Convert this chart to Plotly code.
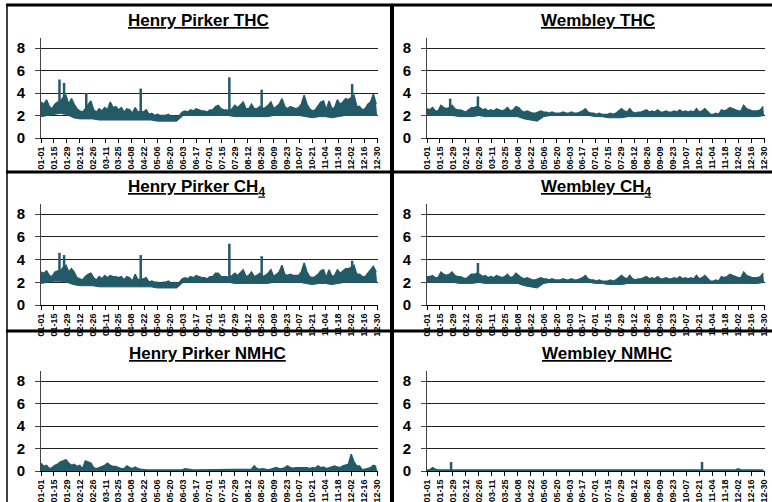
"""
Hourly hydrocarbon concentrations (ppm) at Henry Pirker and Wembley,
one panel per station and species, drawn as a daily range band.
"""

import pandas as pd
import plotly.graph_objects as go

START = pd.Timestamp("2008-01-01")
HI_DAYS = list(range(0, 365, 3))   # upper envelope sampled every 3 days
LO_DAYS = list(range(0, 365, 7))   # lower envelope sampled weekly

# --- Henry Pirker THC ---
hp_thc_hi = [
    3.2, 3.0, 3.4, 2.8, 2.6, 3.0, 3.2, 3.3, 3.6, 3.8,
    3.0, 3.5, 3.0, 2.6, 2.4, 2.3, 2.6, 3.0, 3.3, 2.5,
    2.3, 2.6, 2.4, 2.7, 2.5, 3.2, 2.7, 2.8, 2.5, 2.7,
    2.3, 2.6, 2.5, 2.2, 2.7, 2.3, 2.4, 2.3, 2.5, 2.1,
    2.2, 2.0, 2.1, 2.0, 2.0, 2.0, 2.1, 1.9, 2.0, 1.9,
    2.0, 2.3, 2.4, 2.3, 2.5, 2.4, 2.6, 2.5, 2.4, 2.4,
    2.3, 2.5, 2.5, 2.8, 2.9, 2.6, 2.5, 2.5, 2.4, 2.6,
    2.9, 2.7, 3.0, 3.2, 2.6, 2.6, 3.0, 2.6, 2.6, 2.8,
    2.6, 2.7, 2.9, 3.2, 2.6, 2.8, 3.0, 3.5, 2.8, 2.6,
    2.8, 2.7, 2.6, 2.7, 3.0, 3.8, 3.0, 2.6, 2.4, 2.5,
    2.8, 3.2, 3.3, 2.5, 3.3, 2.6, 2.7, 3.4, 3.0, 3.2,
    3.5, 3.4, 3.6, 3.8, 2.8, 2.8, 2.5, 2.6, 3.0, 3.2,
    3.9, 3.0,
]
hp_thc_lo = [
    1.9, 2.0, 2.1, 2.2, 2.1, 1.8, 1.7, 1.7, 1.7, 1.6,
    1.6, 1.6, 1.6, 1.6, 1.6, 1.6, 1.6, 1.6, 1.5, 1.5,
    1.5, 1.5, 2.0, 2.0, 2.0, 2.0, 2.0, 2.0, 2.0, 2.0,
    1.9, 1.9, 1.9, 1.9, 1.9, 1.9, 2.0, 2.0, 2.0, 2.0,
    2.0, 1.9, 1.8, 1.9, 1.9, 1.8, 1.9, 2.0, 2.0, 2.0,
    2.0, 2.0, 2.0,
]
hp_thc_spike_day = [20, 25, 49, 108, 204, 239, 337]
hp_thc_spike_val = [5.2, 4.9, 4.0, 4.4, 5.4, 4.3, 4.8]

# --- Henry Pirker CH4 ---
hp_ch4_hi = [
    2.9, 2.8, 3.0, 2.6, 2.5, 2.9, 3.0, 3.0, 3.3, 3.5,
    2.9, 3.2, 2.9, 2.4, 2.3, 2.2, 2.5, 2.7, 2.8, 2.4,
    2.2, 2.5, 2.3, 2.6, 2.4, 2.6, 2.5, 2.5, 2.4, 2.5,
    2.2, 2.5, 2.4, 2.1, 2.7, 2.2, 2.3, 2.3, 2.4, 2.0,
    2.1, 2.0, 2.0, 1.9, 2.0, 2.0, 2.1, 1.9, 2.0, 1.9,
    2.0, 2.3, 2.4, 2.3, 2.5, 2.4, 2.6, 2.5, 2.4, 2.4,
    2.3, 2.5, 2.5, 2.8, 2.8, 2.5, 2.5, 2.5, 2.4, 2.6,
    2.8, 2.6, 2.9, 3.1, 2.5, 2.6, 2.9, 2.5, 2.6, 2.8,
    2.5, 2.6, 2.8, 3.1, 2.5, 2.7, 2.9, 3.5, 2.7, 2.6,
    2.7, 2.6, 2.6, 2.6, 2.9, 3.7, 2.9, 2.5, 2.4, 2.5,
    2.7, 3.0, 3.1, 2.4, 3.1, 2.5, 2.6, 3.1, 2.8, 3.0,
    3.2, 3.2, 3.3, 3.5, 2.7, 2.7, 2.5, 2.5, 2.8, 3.0,
    3.4, 2.9,
]
hp_ch4_lo = [
    1.9, 2.0, 2.1, 2.1, 2.0, 1.8, 1.7, 1.7, 1.7, 1.6,
    1.6, 1.6, 1.6, 1.6, 1.6, 1.6, 1.6, 1.6, 1.5, 1.5,
    1.5, 1.5, 2.0, 2.0, 2.0, 2.0, 2.0, 2.0, 2.0, 2.0,
    1.9, 1.9, 1.9, 1.9, 1.9, 1.9, 2.0, 2.0, 2.0, 2.0,
    2.0, 1.9, 1.8, 1.9, 1.9, 1.8, 1.9, 2.0, 2.0, 2.0,
    2.0, 2.0, 2.0,
]
hp_ch4_spike_day = [20, 25, 108, 204, 239, 337]
hp_ch4_spike_val = [4.6, 4.4, 4.4, 5.4, 4.3, 3.9]

# --- Henry Pirker NMHC ---
hp_nmhc_hi = [
    0.7, 0.4, 0.5, 0.2, 0.3, 0.5, 0.6, 0.8, 0.9, 1.0,
    0.7, 0.5, 0.6, 0.4, 0.5, 0.2, 0.9, 0.8, 0.7, 0.3,
    0.2, 0.3, 0.4, 0.5, 0.7, 0.5, 0.4, 0.4, 0.3, 0.2,
    0.2, 0.45, 0.3, 0.2, 0.35, 0.2, 0.15, 0.1, 0.1, 0.1,
    0.1, 0.1, 0.1, 0.1, 0.15, 0.1, 0.1, 0.1, 0.1, 0.1,
    0.1, 0.1, 0.2, 0.15, 0.1, 0.1, 0.1, 0.1, 0.1, 0.1,
    0.1, 0.1, 0.1, 0.1, 0.1, 0.1, 0.1, 0.1, 0.1, 0.1,
    0.1, 0.1, 0.1, 0.1, 0.1, 0.1, 0.15, 0.45, 0.2, 0.15,
    0.2, 0.15, 0.1, 0.15, 0.2, 0.3, 0.2, 0.2, 0.3, 0.45,
    0.3, 0.25, 0.3, 0.3, 0.3, 0.35, 0.3, 0.2, 0.3, 0.25,
    0.45, 0.3, 0.35, 0.2, 0.3, 0.4, 0.45, 0.35, 0.3, 0.45,
    0.5, 0.6, 1.5, 0.8, 0.45, 0.45, 0.1, 0.15, 0.25, 0.3,
    0.5, 0.4,
]
hp_nmhc_lo = [
    0.05, 0.05, 0.05, 0.05, 0.05, 0.05, 0.05, 0.05, 0.05, 0.05,
    0.05, 0.05, 0.05, 0.05, 0.05, 0.05, 0.05, 0.05, 0.05, 0.05,
    0.05, 0.05, 0.05, 0.05, 0.05, 0.05, 0.05, 0.05, 0.05, 0.05,
    0.05, 0.05, 0.05, 0.05, 0.05, 0.05, 0.05, 0.05, 0.05, 0.05,
    0.05, 0.05, 0.05, 0.05, 0.05, 0.05, 0.05, 0.05, 0.05, 0.05,
    0.05, 0.05, 0.05,
]
hp_nmhc_spike_day = []
hp_nmhc_spike_val = []

# --- Wembley THC ---
wem_thc_hi = [
    2.6, 2.5, 2.7, 2.4, 2.4, 2.9, 2.7, 2.6, 2.7, 2.9,
    2.6, 2.5, 2.5, 2.4, 2.3, 2.5, 2.7, 2.7, 2.8, 2.7,
    2.5, 2.6, 2.4, 2.5, 2.4, 2.6, 2.5, 2.4, 2.5, 2.7,
    2.4, 2.5, 2.8, 2.7, 2.4, 2.3, 2.4, 2.3, 2.2, 2.2,
    2.3, 2.4, 2.3, 2.3, 2.2, 2.3, 2.2, 2.2, 2.2, 2.3,
    2.2, 2.2, 2.3, 2.2, 2.2, 2.3, 2.4, 2.6, 2.3, 2.2,
    2.2, 2.1, 2.2, 2.1, 2.1, 2.1, 2.2, 2.1, 2.2, 2.4,
    2.6, 2.4, 2.3, 2.6, 2.3, 2.2, 2.3, 2.3, 2.4, 2.5,
    2.3, 2.4, 2.3, 2.5, 2.3, 2.3, 2.4, 2.3, 2.3, 2.4,
    2.3, 2.5, 2.3, 2.4, 2.3, 2.4, 2.3, 2.6, 2.3, 2.4,
    2.6, 2.3, 2.1, 2.1, 2.2, 2.1, 2.5, 2.4, 2.5, 2.7,
    2.6, 2.5, 2.4, 2.4, 2.9, 2.6, 2.5, 2.4, 2.4, 2.4,
    2.5, 2.8,
]
wem_thc_lo = [
    2.0, 2.0, 2.0, 2.0, 2.0, 1.9, 1.9, 1.9, 2.0, 1.9,
    1.9, 1.9, 1.9, 1.9, 1.9, 1.7, 1.6, 1.5, 1.9, 2.0,
    2.0, 2.0, 2.0, 2.0, 2.0, 2.0, 1.9, 1.9, 1.8, 1.8,
    1.8, 1.9, 1.9, 1.9, 1.9, 1.9, 1.9, 1.9, 1.9, 1.9,
    1.9, 1.9, 1.9, 1.9, 1.9, 1.9, 1.9, 1.9, 1.9, 1.9,
    1.9, 1.9, 2.0,
]
wem_thc_spike_day = [25, 55]
wem_thc_spike_val = [3.5, 3.7]

# --- Wembley CH4 ---
wem_ch4_hi = [
    2.5, 2.5, 2.6, 2.4, 2.4, 2.9, 2.7, 2.6, 2.7, 2.9,
    2.6, 2.5, 2.5, 2.4, 2.3, 2.5, 2.7, 2.7, 2.8, 2.7,
    2.5, 2.6, 2.4, 2.5, 2.4, 2.6, 2.5, 2.4, 2.5, 2.7,
    2.4, 2.5, 2.8, 2.6, 2.4, 2.3, 2.4, 2.3, 2.2, 2.2,
    2.3, 2.4, 2.3, 2.3, 2.2, 2.3, 2.2, 2.2, 2.2, 2.3,
    2.2, 2.2, 2.3, 2.2, 2.2, 2.3, 2.4, 2.6, 2.3, 2.2,
    2.2, 2.1, 2.2, 2.1, 2.1, 2.1, 2.2, 2.1, 2.2, 2.4,
    2.6, 2.4, 2.3, 2.6, 2.3, 2.2, 2.3, 2.3, 2.4, 2.5,
    2.3, 2.4, 2.3, 2.5, 2.3, 2.3, 2.4, 2.3, 2.3, 2.4,
    2.3, 2.5, 2.3, 2.4, 2.3, 2.4, 2.3, 2.6, 2.3, 2.4,
    2.6, 2.3, 2.1, 2.1, 2.2, 2.1, 2.5, 2.4, 2.5, 2.7,
    2.6, 2.5, 2.4, 2.4, 2.9, 2.6, 2.5, 2.4, 2.4, 2.4,
    2.5, 2.8,
]
wem_ch4_lo = [
    2.0, 2.0, 2.0, 2.0, 2.0, 1.9, 1.9, 1.9, 2.0, 1.9,
    1.9, 1.9, 1.9, 1.9, 1.9, 1.7, 1.6, 1.5, 1.9, 2.0,
    2.0, 2.0, 2.0, 2.0, 2.0, 2.0, 1.9, 1.9, 1.8, 1.8,
    1.8, 1.9, 1.9, 1.9, 1.9, 1.9, 1.9, 1.9, 1.9, 1.9,
    1.9, 1.9, 1.9, 1.9, 1.9, 1.9, 1.9, 1.9, 1.9, 1.9,
    1.9, 1.9, 2.0,
]
wem_ch4_spike_day = [55]
wem_ch4_spike_val = [3.7]

# --- Wembley NMHC ---
wem_nmhc_hi = [
    0.1, 0.1, 0.3, 0.15, 0.1, 0.1, 0.1, 0.1, 0.1, 0.1,
    0.1, 0.1, 0.1, 0.1, 0.1, 0.1, 0.1, 0.1, 0.1, 0.1,
    0.1, 0.1, 0.1, 0.1, 0.1, 0.1, 0.1, 0.1, 0.1, 0.1,
    0.1, 0.1, 0.1, 0.1, 0.1, 0.1, 0.1, 0.1, 0.1, 0.1,
    0.1, 0.1, 0.1, 0.1, 0.1, 0.1, 0.1, 0.1, 0.1, 0.1,
    0.1, 0.1, 0.1, 0.1, 0.1, 0.1, 0.1, 0.1, 0.1, 0.1,
    0.1, 0.1, 0.1, 0.1, 0.1, 0.1, 0.1, 0.1, 0.1, 0.1,
    0.1, 0.1, 0.1, 0.1, 0.1, 0.1, 0.1, 0.1, 0.1, 0.1,
    0.1, 0.1, 0.1, 0.1, 0.1, 0.1, 0.1, 0.1, 0.1, 0.1,
    0.1, 0.1, 0.1, 0.1, 0.1, 0.1, 0.1, 0.1, 0.1, 0.1,
    0.1, 0.1, 0.1, 0.05, 0.1, 0.1, 0.1, 0.1, 0.1, 0.1,
    0.1, 0.1, 0.2, 0.1, 0.1, 0.1, 0.1, 0.1, 0.1, 0.1,
    0.1, 0.1,
]
wem_nmhc_lo = [
    0.02, 0.02, 0.02, 0.02, 0.02, 0.02, 0.02, 0.02, 0.02, 0.02,
    0.02, 0.02, 0.02, 0.02, 0.02, 0.02, 0.02, 0.02, 0.02, 0.02,
    0.02, 0.02, 0.02, 0.02, 0.02, 0.02, 0.02, 0.02, 0.02, 0.02,
    0.02, 0.02, 0.02, 0.02, 0.02, 0.02, 0.02, 0.02, 0.02, 0.02,
    0.02, 0.02, 0.02, 0.02, 0.02, 0.02, 0.02, 0.02, 0.02, 0.02,
    0.02, 0.02, 0.02,
]
wem_nmhc_spike_day = [26, 297]
wem_nmhc_spike_val = [0.8, 0.8]

TITLES = [
    "Henry Pirker THC", "Wembley THC",
    "Henry Pirker CH<sub>4</sub>", "Wembley CH<sub>4</sub>",
    "Henry Pirker NMHC", "Wembley NMHC",
]

TEAL = "#235A68"
FONT = "Liberation Sans, Arial, sans-serif"
W, H = 772, 502

# panel geometry in pixels: plot area x-span per column, y-span per row
COL_PX = [(41, 378), (427, 765)]
ROW_PX = [(38, 138), (204, 305), (371, 471)]
TITLE_PX = [(126, 21), (539, 21), (126, 188), (539, 188), (127, 353), (540, 353)]


def px_x(px):
    return px / W


def px_y(py):
    return 1 - py / H


def to_dates(days):
    return [START + pd.Timedelta(days=int(d)) for d in days]


def spike_segments(days, vals, lo):
    """Vertical strokes from the band floor up to each spike peak."""
    xs, ys = [], []
    for d, v in zip(days, vals):
        base = lo[min(range(len(LO_DAYS)), key=lambda i: abs(LO_DAYS[i] - d))]
        xs += [START + pd.Timedelta(days=d), START + pd.Timedelta(days=d), None]
        ys += [base, v, None]
    return xs, ys


panels = [
    (hp_thc_hi, hp_thc_lo, hp_thc_spike_day, hp_thc_spike_val),
    (wem_thc_hi, wem_thc_lo, wem_thc_spike_day, wem_thc_spike_val),
    (hp_ch4_hi, hp_ch4_lo, hp_ch4_spike_day, hp_ch4_spike_val),
    (wem_ch4_hi, wem_ch4_lo, wem_ch4_spike_day, wem_ch4_spike_val),
    (hp_nmhc_hi, hp_nmhc_lo, hp_nmhc_spike_day, hp_nmhc_spike_val),
    (wem_nmhc_hi, wem_nmhc_lo, wem_nmhc_spike_day, wem_nmhc_spike_val),
]

hi_x = to_dates(HI_DAYS)
lo_x = to_dates(LO_DAYS)

fig = go.Figure()
layout = {}
annotations = []

for i, (hi, lo, sp_day, sp_val) in enumerate(panels):
    n = "" if i == 0 else str(i + 1)
    row, col = divmod(i, 2)
    xa, ya = "x" + n, "y" + n

    # lower envelope, then upper envelope filled down to it
    fig.add_trace(go.Scatter(
        x=lo_x, y=lo, mode="lines", xaxis=xa, yaxis=ya,
        line=dict(color=TEAL, width=1), hoverinfo="skip",
    ))
    fig.add_trace(go.Scatter(
        x=hi_x, y=hi, mode="lines", xaxis=xa, yaxis=ya,
        fill="tonexty", fillcolor=TEAL,
        line=dict(color=TEAL, width=1.5), hoverinfo="skip",
    ))
    if sp_day:
        sx, sy = spike_segments(sp_day, sp_val, lo)
        fig.add_trace(go.Scatter(
            x=sx, y=sy, mode="lines", xaxis=xa, yaxis=ya,
            line=dict(color=TEAL, width=2.5), hoverinfo="skip",
        ))

    x0, x1 = COL_PX[col]
    ytop, ybot = ROW_PX[row]
    layout["xaxis" + n] = dict(
        domain=[px_x(x0), px_x(x1)],
        anchor=ya,
        automargin=False,
        type="date",
        range=[START, START + pd.Timedelta(days=365)],
        tick0=START,
        dtick=14 * 86400000,
        tickformat="%m-%d",
        tickangle=-90,
        tickfont=dict(family=FONT, size=9, color="black", weight="bold"),
        showgrid=False,
        showline=True,
        linecolor="black",
        linewidth=1,
        ticks="outside",
        ticklen=4,
        tickcolor="black",
    )
    layout["yaxis" + n] = dict(
        domain=[px_y(ybot), px_y(ytop)],
        anchor=xa,
        automargin=False,
        range=[0, 8.9],
        tick0=0,
        dtick=2,
        tickfont=dict(family=FONT, size=15, color="black", weight="bold"),
        showgrid=True,
        gridcolor="#222222",
        gridwidth=1,
        zeroline=False,
        showline=True,
        linecolor="#444444",
        linewidth=1,
        ticks="outside",
        ticklen=5,
        tickcolor="#444444",
        ticklabelstandoff=7,
    )

    tx, ty = TITLE_PX[i]
    annotations.append(dict(
        text=f"<u>{TITLES[i]}</u>",
        xref="paper", yref="paper",
        x=px_x(tx), y=px_y(ty),
        xanchor="left", yanchor="middle",
        showarrow=False,
        font=dict(family=FONT, size=17, color="black", weight="bold"),
    ))

# panel frames
frame = dict(type="line", xref="paper", yref="paper", line=dict(color="black"))
shapes = [
    dict(frame, x0=px_x(6), x1=1, y0=px_y(5), y1=px_y(5), line=dict(color="black", width=3)),
    dict(frame, x0=px_x(6), x1=1, y0=px_y(172), y1=px_y(172), line=dict(color="black", width=3)),
    dict(frame, x0=px_x(6), x1=1, y0=px_y(331), y1=px_y(331), line=dict(color="black", width=3)),
    dict(frame, x0=px_x(392), x1=px_x(392), y0=0, y1=px_y(4), line=dict(color="black", width=4)),
    dict(frame, x0=px_x(7), x1=px_x(7), y0=0, y1=px_y(4), line=dict(color="black", width=1.5)),
]

fig.update_layout(
    **layout,
    width=W,
    height=H,
    margin=dict(l=0, r=0, t=0, b=0),
    showlegend=False,
    plot_bgcolor="white",
    paper_bgcolor="white",
    font=dict(family=FONT, color="black"),
    annotations=annotations,
    shapes=shapes,
)

# the page's default body margin would shift the chart by 8px
fig.write_html(
    "out.html",
    config={"displayModeBar": False},
    post_script="document.body.style.margin = '0';",
)
